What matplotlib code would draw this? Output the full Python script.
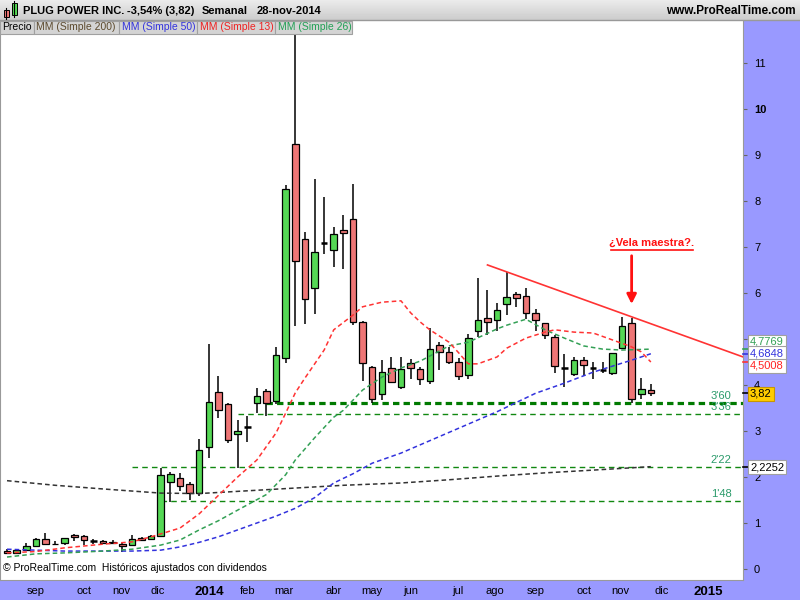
import matplotlib
matplotlib.use("Agg")
import matplotlib.pyplot as plt
from matplotlib.patches import Rectangle
import numpy as np

plt.rcParams["font.family"] = ["Liberation Sans", "DejaVu Sans"]

# weekly candles, 16-ago-2013 .. 28-nov-2014
opens = [0.39, 0.35, 0.41, 0.50, 0.65, 0.55, 0.57, 0.74, 0.72, 0.61,
         0.61, 0.59, 0.54, 0.52, 0.67, 0.65, 0.72, 1.89, 1.98, 1.85,
         1.65, 2.65, 3.85, 3.59, 2.93, 3.09, 3.61, 3.87, 3.65, 4.59,
         9.24, 7.17, 6.11, 7.09, 6.93, 7.37, 7.61, 5.37, 4.39, 3.80,
         4.37, 3.96, 4.48, 4.35, 4.09, 4.87, 4.72, 4.50, 4.22, 5.17,
         5.46, 5.41, 5.76, 5.98, 5.93, 5.57, 5.35, 5.04, 4.37, 4.24,
         4.54, 4.37, 4.33, 4.26, 4.80, 5.35, 3.80, 3.89]
highs = [0.43, 0.43, 0.56, 0.67, 0.78, 0.61, 0.67, 0.76, 0.74, 0.65,
         0.62, 0.63, 0.56, 0.74, 0.70, 0.74, 2.20, 2.11, 2.09, 1.89,
         2.83, 4.89, 4.20, 3.61, 3.24, 3.33, 3.93, 3.91, 4.83, 8.35,
         11.9, 7.33, 8.48, 8.09, 7.43, 7.70, 8.37, 5.39, 4.41, 4.54,
         4.61, 4.61, 4.57, 4.39, 5.24, 4.93, 4.83, 4.59, 5.11, 6.33,
         6.07, 5.78, 6.46, 6.02, 6.11, 5.65, 5.35, 5.09, 4.67, 4.61,
         4.61, 4.50, 4.50, 4.70, 5.48, 5.46, 4.15, 4.02]
lows = [0.32, 0.34, 0.40, 0.49, 0.52, 0.54, 0.53, 0.61, 0.52, 0.55,
        0.54, 0.55, 0.37, 0.50, 0.61, 0.63, 0.70, 1.46, 1.70, 1.50,
        1.59, 2.41, 3.28, 2.74, 2.20, 2.76, 3.39, 3.33, 3.58, 4.48,
        5.28, 5.33, 5.54, 6.85, 6.57, 6.52, 5.30, 4.09, 3.61, 3.67,
        4.04, 3.91, 4.13, 4.00, 4.02, 4.33, 4.46, 4.11, 4.13, 5.04,
        5.09, 5.17, 5.52, 5.70, 5.43, 5.17, 5.00, 4.26, 3.96, 4.20,
        4.20, 4.13, 4.26, 4.22, 4.80, 3.61, 3.70, 3.76]
closes = [0.34, 0.41, 0.50, 0.65, 0.54, 0.54, 0.67, 0.70, 0.63, 0.61,
          0.56, 0.57, 0.50, 0.65, 0.63, 0.72, 2.04, 2.07, 1.80, 1.65,
          2.59, 3.63, 3.46, 2.80, 3.00, 3.09, 3.76, 3.61, 4.65, 8.26,
          6.70, 5.87, 6.89, 7.09, 7.28, 7.30, 5.37, 4.48, 3.70, 4.28,
          4.07, 4.35, 4.37, 4.13, 4.78, 4.72, 4.50, 4.20, 5.02, 5.41,
          5.37, 5.63, 5.91, 5.89, 5.57, 5.41, 5.09, 4.41, 4.37, 4.54,
          4.43, 4.37, 4.33, 4.70, 5.28, 3.70, 3.91, 3.82]

# moving averages (week index, value)
ma13_weeks = [0, 3, 6, 10, 13, 15, 18, 20, 22, 24, 26, 28, 29, 30, 31, 33, 34, 36, 37,
              39, 41, 42, 43, 44, 46, 47, 48, 49, 51, 52, 54, 56, 57, 59, 61, 63, 65, 66, 67]
ma13_vals = [0.35, 0.38, 0.46, 0.54, 0.59, 0.70, 0.89, 1.20, 1.60, 2.00, 2.37, 2.96, 3.39,
             3.83, 4.15, 4.76, 5.20, 5.52, 5.70, 5.80, 5.83, 5.57, 5.37, 5.20, 4.93, 4.70,
             4.46, 4.46, 4.61, 4.80, 5.02, 5.15, 5.20, 5.15, 5.13, 4.98, 4.83, 4.72, 4.50]
ma26_weeks = [0, 3, 6, 10, 13, 16, 18, 20, 22, 24, 27, 29, 30, 32, 34, 35, 37, 39, 41, 43,
              46, 48, 51, 52, 54, 56, 58, 60, 62, 64, 67]
ma26_vals = [0.26, 0.33, 0.35, 0.39, 0.43, 0.52, 0.63, 0.85, 1.05, 1.28, 1.62, 2.05, 2.37,
             2.85, 3.30, 3.45, 3.89, 4.17, 4.37, 4.52, 4.85, 4.93, 5.22, 5.30, 5.43, 5.20,
             5.02, 4.85, 4.78, 4.76, 4.78]
ma50_weeks = [0, 3, 6, 10, 13, 16, 18, 20, 22, 24, 26, 28, 30, 32, 34, 36, 38, 41, 43, 45,
              47, 49, 51, 55, 58, 61, 65, 67]
ma50_vals = [0.43, 0.41, 0.39, 0.39, 0.39, 0.41, 0.48, 0.58, 0.70, 0.85, 1.00, 1.15, 1.32,
             1.55, 1.87, 2.07, 2.30, 2.52, 2.70, 2.88, 3.06, 3.24, 3.42, 3.82, 4.04, 4.28,
             4.54, 4.68]
ma200_weeks = [0, 5, 10, 16, 20, 25, 30, 35, 41, 46, 51, 56, 61, 67]
ma200_vals = [1.92, 1.82, 1.74, 1.65, 1.64, 1.70, 1.76, 1.82, 1.87, 1.94, 2.02, 2.09, 2.15, 2.2252]

last_values = {"ma26": 4.7769, "ma50": 4.6848, "ma13": 4.5008, "close": 3.82, "ma200": 2.2252}

# support levels drawn by hand
levels = [3.60, 3.36, 2.22, 1.48]
level_start = [27, 24, 13, 16]
level_labels = ["3'60", "3'36", "2'22", "1'48"]

# resistance trendline
trend_weeks = [50, 76.6]
trend_vals = [6.61, 4.61]

month_labels = ["sep", "oct", "nov", "dic", "2014", "feb", "mar", "abr", "may", "jun",
                "jul", "ago", "sep", "oct", "nov", "dic", "2015"]
month_pos = [3.0, 8.0, 11.9, 15.7, 21.0, 25.0, 28.8, 34.0, 38.0, 42.0,
             46.9, 50.8, 55.0, 60.0, 63.8, 68.1, 73.0]

GREEN = "#55D855"
RED = "#EE7676"
PURPLE = "#9999FF"
W, H = 800, 600


def fx(px):
    return px / W


def fy(py):
    return 1 - py / H


fig = plt.figure(figsize=(8, 6), dpi=100, facecolor=PURPLE)
ax = fig.add_axes([0, 20 / H, 743 / W, 560 / H])
ax.set_facecolor("white")
ax.set_xlim(-0.73, 76.59)
ax.set_ylim(-0.239, 11.935)

# level lines
for lv, start in zip(levels, level_start):
    if lv == 3.60:
        ax.hlines(lv, start, 76.6, color="#007A00", lw=2.3, linestyle=(0, (2, 1.3)), zorder=2)
    else:
        ax.hlines(lv, start, 76.6, color="#118811", lw=1, linestyle=(0, (4, 3)), zorder=2)
for lv, lab in zip(levels, level_labels):
    ax.annotate(lab, xy=(75.4, lv), xytext=(0, 1.5), textcoords="offset points",
                ha="right", va="bottom", fontsize=8, color="#2A9A6A", zorder=3)

# candles
x = np.arange(len(opens))
for i in x:
    o, h, l, c = opens[i], highs[i], lows[i], closes[i]
    ax.vlines(i, l, h, color="black", lw=1.1, zorder=3)
    if c == o:
        ax.hlines(o, i - 0.34, i + 0.34, color="black", lw=1.8, zorder=4)
    else:
        ax.add_patch(Rectangle((i - 0.34, min(o, c)), 0.68, abs(c - o),
                               facecolor=GREEN if c > o else RED,
                               edgecolor="black", lw=0.9, zorder=4))

# moving averages
dash = (0, (3, 2))
ax.plot(ma200_weeks, ma200_vals, color="#333333", lw=1.1, linestyle=dash, zorder=5)
ax.plot(ma50_weeks, ma50_vals, color="#3333DD", lw=1.1, linestyle=dash, zorder=5)
ax.plot(ma26_weeks, ma26_vals, color="#33A055", lw=1.1, linestyle=dash, zorder=5)
ax.plot(ma13_weeks, ma13_vals, color="#FF3333", lw=1.1, linestyle=dash, zorder=5)

# trendline and annotation
ax.plot(trend_weeks, trend_vals, color="#FF3333", lw=1.2, zorder=6, clip_on=True)
ax.annotate("", xy=(65, 5.70), xytext=(65, 6.87),
            arrowprops=dict(arrowstyle="-|>", color="#FF1111", lw=2, mutation_scale=14),
            zorder=7)
ax.text(67.1, 7.09, "¿Vela maestra?.", color="#FF1111", fontsize=8, fontweight="bold",
        ha="center", va="center", zorder=7)
ax.plot([62.9, 71.4], [6.93, 6.93], color="#FF1111", lw=1.2, zorder=7)

# axes styling
for side in ["left", "bottom", "right"]:
    ax.spines[side].set_color("#999999")
ax.spines["top"].set_visible(False)
ax.yaxis.tick_right()
ax.set_yticks(range(12))
ax.set_yticklabels([str(v) for v in range(12)])
ax.tick_params(axis="y", direction="out", length=3, color="#666666", pad=5, labelsize=8)
for t in ax.get_yticklabels():
    if t.get_text() == "10":
        t.set_fontweight("bold")
ax.set_xticks(month_pos)
ax.set_xticklabels(month_labels)
ax.tick_params(axis="x", length=0, pad=4, labelsize=8)
for t in ax.get_xticklabels():
    if t.get_text() in ("2014", "2015"):
        t.set_fontweight("bold")
        t.set_fontsize(9.5)

ax.text(0.004, 0.012, "© ProRealTime.com  Históricos ajustados con dividendos",
        transform=ax.transAxes, fontsize=7.5, ha="left", va="bottom", zorder=8)

# value boxes on the right axis
def value_box(y_px, text, color, face, edge="#A0A0A0", width=None):
    fig.text(fx(750), fy(y_px), text, color=color, fontsize=8, ha="left", va="center",
             bbox=dict(boxstyle="square,pad=0.18", fc=face, ec=edge, lw=0.8), zorder=10)


def value_mark(val, color):
    ax.plot([1.0, 1.008], [val, val], transform=ax.get_yaxis_transform(),
            color=color, lw=1.2, clip_on=False, zorder=9)


value_mark(last_values["ma26"], "#33A055")
value_mark(last_values["ma50"], "#3333DD")
value_mark(last_values["ma13"], "#FF3333")
value_mark(last_values["close"], "black")
value_mark(last_values["ma200"], "black")
value_box(342, f"{last_values['ma26']:.4f}".replace(".", ","), "#33A055", "white")
value_box(353, f"{last_values['ma50']:.4f}".replace(".", ","), "#3333DD", "white")
value_box(366, f"{last_values['ma13']:.4f}".replace(".", ","), "#FF2222", "white")
value_box(394, f"{last_values['close']:.2f}".replace(".", ","), "black", "#FFCC00", edge="#C89600")
value_box(467, f"{last_values['ma200']:.4f}".replace(".", ","), "black", "white")

# header bar
hdr = fig.add_axes([0, fy(20), 1, 20 / H])
grad = np.linspace(0.92, 0.80, 20).reshape(-1, 1)
hdr.imshow(grad, aspect="auto", cmap="gray", vmin=0, vmax=1, extent=[0, 1, 0, 1])
hdr.set_xlim(0, 1)
hdr.set_ylim(0, 1)
hdr.axis("off")
fig.add_artist(plt.Line2D([0, 1], [fy(20), fy(20)], color="#999999", lw=1))

# small candle icon
fig.add_artist(plt.Line2D([fx(6), fx(6)], [fy(8), fy(19)], color="black", lw=0.8))
fig.add_artist(Rectangle((fx(3.5), fy(17)), fx(5), 7 / H, facecolor=RED, edgecolor="black", lw=0.7))
fig.add_artist(plt.Line2D([fx(14), fx(14)], [fy(1), fy(17)], color="black", lw=0.8))
fig.add_artist(Rectangle((fx(11.5), fy(15)), fx(5), 12 / H, facecolor=GREEN, edgecolor="black", lw=0.7))

title_parts = [(23, "PLUG POWER INC."), (127, "-3,54% (3,82)"), (202, "Semanal"), (257, "28-nov-2014")]
for px, txt in title_parts:
    fig.text(fx(px), fy(11), txt, fontsize=8, fontweight="bold", ha="left", va="center")
fig.text(fx(796), fy(11), "www.ProRealTime.com", fontsize=8.5, fontweight="bold",
         ha="right", va="center")

# legend row
legend_items = [("Precio", "black"), ("MM (Simple 200)", "#5C4A2E"), ("MM (Simple 50)", "#3333DD"),
                ("MM (Simple 13)", "#EE2222"), ("MM (Simple 26)", "#22A055")]
edges = [0, 34, 119, 197, 275, 352]
for (txt, col), x0, x1 in zip(legend_items, edges[:-1], edges[1:]):
    fig.add_artist(Rectangle((fx(x0), fy(34)), fx(x1 - x0), 13 / H, facecolor="#D4D4D4",
                             edgecolor="#A0A0A0", lw=0.8, zorder=11))
    fig.text(fx(x0 + 2.5), fy(27.5), txt, color=col, fontsize=7.5, ha="left", va="center", zorder=12)

fig.savefig("out.png", dpi=100, facecolor=PURPLE)
